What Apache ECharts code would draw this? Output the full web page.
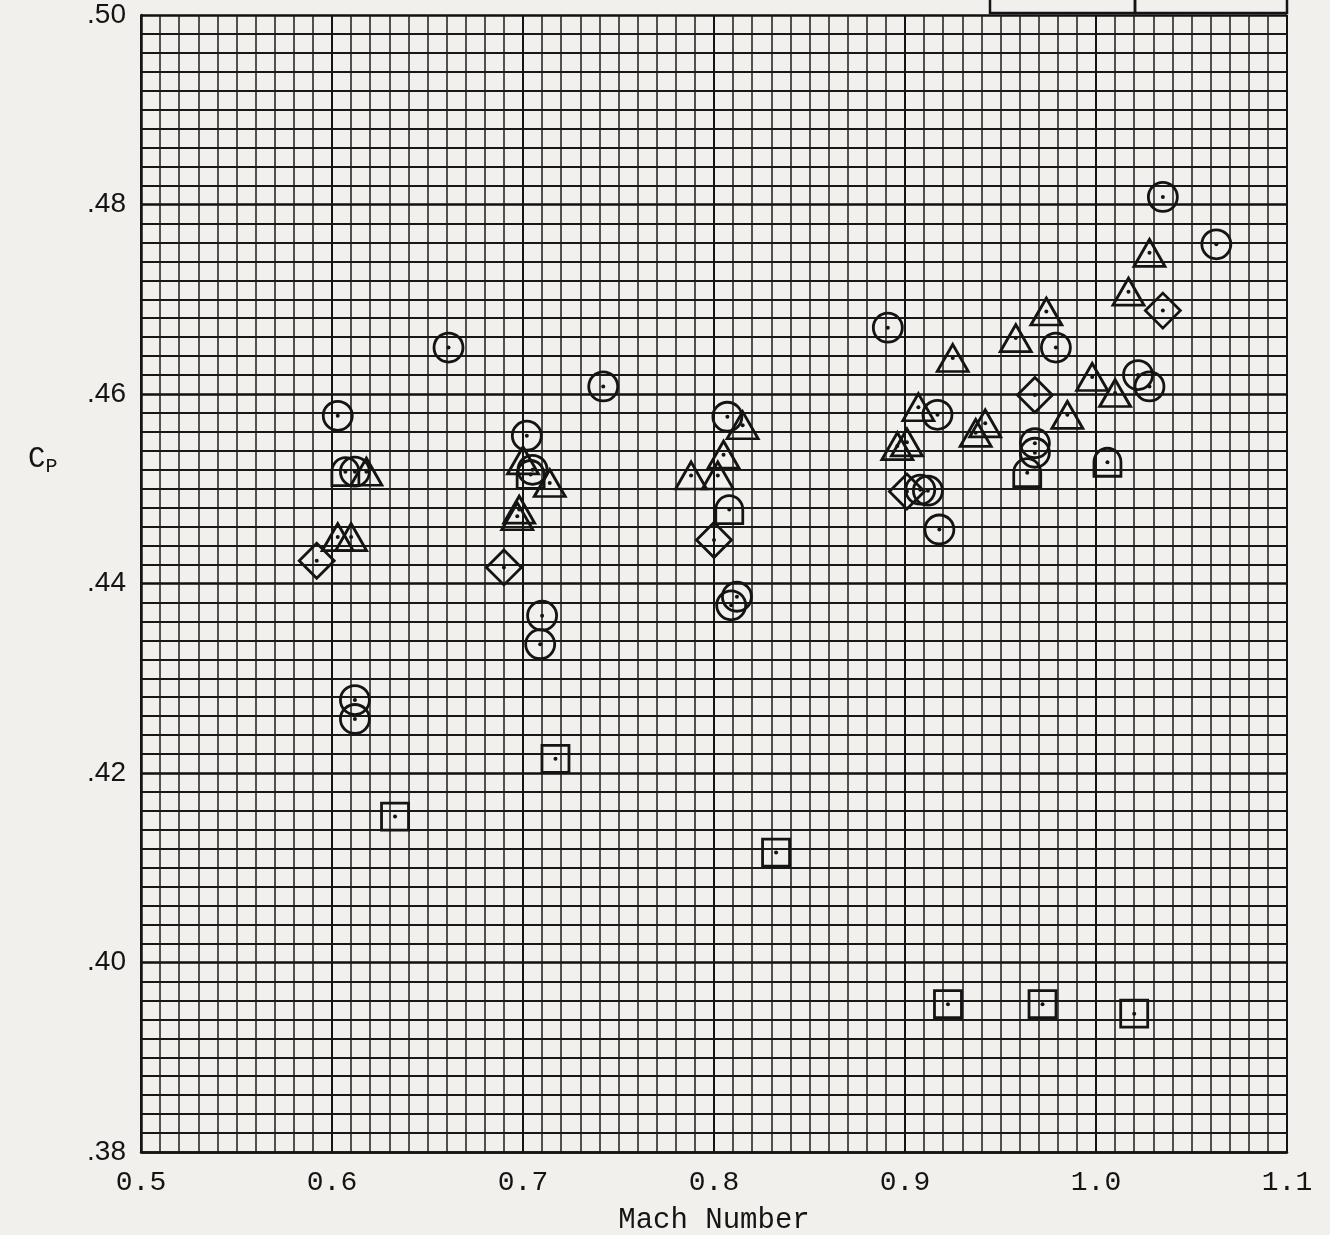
<!DOCTYPE html>
<html>
<head>
<meta charset="utf-8">
<script src="https://cdn.jsdelivr.net/npm/echarts@6/dist/echarts.min.js"></script>
<style>
html,body{margin:0;padding:0;background:#f1f0ec;}
#main{width:1330px;height:1235px;}
</style>
</head>
<body>
<div id="main"></div>
<script>
/* data: Mach number / pressure coefficient */
var circleMach = [0.603, 0.661, 0.742, 0.702, 0.612, 0.612, 0.612, 0.705, 0.710, 0.709, 0.807, 0.812, 0.809,
	0.891, 0.917, 0.908, 0.912, 0.918, 0.979, 0.968, 0.968, 1.022, 1.028, 1.035, 1.063];
var circleCp = [0.4577, 0.4649, 0.4608, 0.4556, 0.4518, 0.4277, 0.4257, 0.4520, 0.4366, 0.4336, 0.4576, 0.4386, 0.4377,
	0.4670, 0.4578, 0.4499, 0.4498, 0.4457, 0.4649, 0.4548, 0.4538, 0.4620, 0.4608, 0.4808, 0.4758];

var triMach = [0.618, 0.603, 0.610, 0.700, 0.714, 0.698, 0.697, 0.815, 0.805, 0.788, 0.802,
	0.907, 0.896, 0.901, 0.925, 0.958, 0.974, 0.937, 0.942, 0.985, 0.998, 1.010, 1.028, 1.017];
var triCp = [0.4518, 0.4449, 0.4449, 0.4530, 0.4506, 0.4478, 0.4471, 0.4567, 0.4536, 0.4514, 0.4514,
	0.4586, 0.4545, 0.4549, 0.4638, 0.4659, 0.4687, 0.4559, 0.4569, 0.4578, 0.4618, 0.4601, 0.4749, 0.4708];

var diamondMach = [0.592, 0.690, 0.800, 0.901, 0.968, 1.035];
var diamondCp = [0.4424, 0.4417, 0.4446, 0.4497, 0.4599, 0.4688];

var squareMach = [0.633, 0.717, 0.8325, 0.9225, 0.972, 1.020];
var squareCp = [0.4154, 0.4215, 0.4116, 0.3956, 0.3956, 0.3946];

var flagMach = [0.607, 0.704, 0.808, 0.964, 1.006];
var flagCp = [0.4518, 0.4515, 0.4478, 0.4517, 0.4528];

var xMin = 0.5, xMax = 1.1, xStep = 0.1;
var yMin = 0.38, yMax = 0.50, yStep = 0.02;

function pairs(xs, ys){
	var out = [];
	for (var i = 0; i < xs.length; i++) out.push([xs[i], ys[i]]);
	return out;
}

var ink = '#141414';
function hollow(name, symbol, size, xs, ys){
	return {
		name: name,
		type: 'scatter',
		symbol: symbol,
		symbolSize: size,
		silent: true,
		itemStyle: {
			color: 'rgba(0,0,0,0)',
			borderColor: ink,
			borderWidth: 2.8,
			opacity: 1
		},
		data: pairs(xs, ys),
		z: 5
	};
}

var allMach = circleMach.concat(triMach, diamondMach, squareMach, flagMach);
var allCp = circleCp.concat(triCp, diamondCp, squareCp, flagCp);

var mychart = echarts.init(document.getElementById('main'));
var option = {
	backgroundColor: '#f1f0ec',
	animation: false,
	grid: {
		left: 141,
		right: 43,
		top: 15,
		bottom: 83,
		outerBoundsMode: 'none'
	},
	xAxis: {
		type: 'value',
		min: xMin,
		max: xMax,
		interval: xStep,
		name: 'Mach Number',
		nameLocation: 'middle',
		nameGap: 54,
		nameTextStyle: {
			color: ink,
			fontFamily: 'Liberation Mono',
			fontSize: 29
		},
		axisLine: { show: true, lineStyle: { color: ink, width: 2.5 } },
		axisTick: { show: false },
		axisLabel: {
			color: ink,
			fontFamily: 'Liberation Mono',
			fontSize: 28,
			margin: 17,
			formatter: function(v){ return v.toFixed(1); }
		},
		splitLine: { show: true, lineStyle: { color: '#141414', width: 2 } },
		minorTick: { show: false, splitNumber: 10 },
		minorSplitLine: { show: true, lineStyle: { color: '#1c1c1c', width: 1.5 } }
	},
	yAxis: {
		type: 'value',
		min: yMin,
		max: yMax,
		interval: yStep,
		axisLine: { show: true, lineStyle: { color: ink, width: 2.5 } },
		axisTick: { show: false },
		axisLabel: {
			color: ink,
			fontFamily: 'Liberation Sans',
			fontSize: 28,
			margin: 15,
			formatter: function(v){ return v.toFixed(2).replace(/^0/, ''); }
		},
		splitLine: { show: true, lineStyle: { color: '#111', width: 2.6 } },
		minorTick: { show: false, splitNumber: 10 },
		minorSplitLine: { show: true, lineStyle: { color: '#181818', width: 2 } }
	},
	graphic: [
		{
			type: 'text',
			left: 28,
			top: 445,
			style: {
				text: '{c|C}{p|P}',
				rich: {
					c: { fontFamily: 'Liberation Mono', fontSize: 29, fill: ink },
					p: { fontFamily: 'Liberation Mono', fontSize: 20, fill: ink, padding: [14, 0, 0, 0] }
				}
			}
		},
		{
			type: 'rect',
			shape: { x: 990, y: -10, width: 145, height: 23 },
			style: { fill: 'none', stroke: ink, lineWidth: 2.5 }
		},
		{
			type: 'rect',
			shape: { x: 1135, y: -10, width: 152, height: 23 },
			style: { fill: 'none', stroke: ink, lineWidth: 2.5 }
		}
	],
	series: [
		hollow('circle', 'circle', 29, circleMach, circleCp),
		hollow('triangle', 'triangle', [31, 27], triMach, triCp),
		hollow('diamond', 'diamond', [35, 35], diamondMach, diamondCp),
		hollow('square', 'rect', [27, 27], squareMach, squareCp),
		hollow('flag', 'path://M0,10 L0,5 A5,5 0 0 1 10,5 L10,10 Z', [27, 28], flagMach, flagCp),
		{
			name: 'center',
			type: 'scatter',
			symbol: 'circle',
			symbolSize: 4,
			silent: true,
			itemStyle: { color: ink, opacity: 1 },
			data: pairs(allMach, allCp),
			z: 6
		}
	]
};
mychart.setOption(option);
</script>
</body>
</html>
